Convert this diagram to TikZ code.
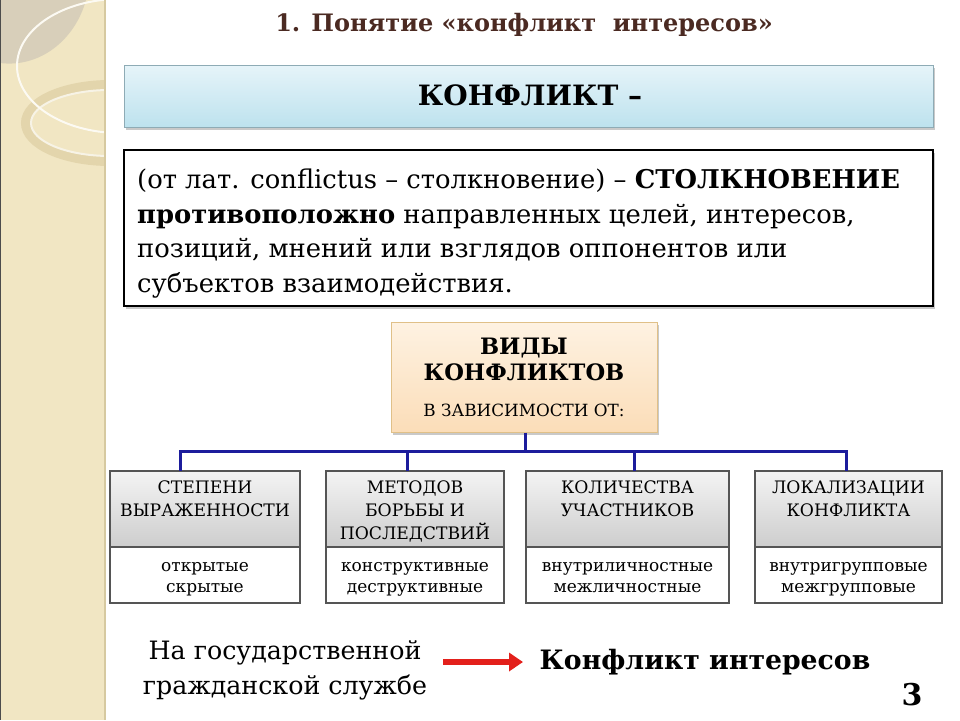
\documentclass[tikz,border=0pt]{standalone}
\usepackage{fontspec}
\setmainfont{DejaVu Serif}
\usetikzlibrary{shadows,arrows.meta}
\definecolor{stripc}{HTML}{F1E6C3}
\definecolor{stripedge}{HTML}{D6C9A0}
\definecolor{lensc}{HTML}{D8CFBA}
\definecolor{ringc}{HTML}{E3D5AC}
\definecolor{titlec}{HTML}{4B2A22}
\definecolor{bluetop}{HTML}{E6F4F9}
\definecolor{bluebot}{HTML}{BDE2EE}
\definecolor{blueedge}{HTML}{8EABB5}
\definecolor{peachtop}{HTML}{FEF2E2}
\definecolor{peachbot}{HTML}{FBDDB8}
\definecolor{peachedge}{HTML}{E0C088}
\definecolor{graytop}{HTML}{F4F4F4}
\definecolor{graybot}{HTML}{CDCDCD}
\definecolor{boxedge}{HTML}{555555}
\definecolor{linkc}{HTML}{1C1C9C}
\definecolor{arrowred}{HTML}{E3201B}
\newcommand{\fsz}[2]{\fontsize{#1}{#2}\selectfont}
\begin{document}
\begin{tikzpicture}[x=1pt,y=-1pt,
  shad/.style={drop shadow={shadow xshift=2pt,shadow yshift=-3pt,opacity=.35,fill=black!60}},
  hdrbox/.style={draw=boxedge,line width=1.2pt,top color=graytop,bottom color=graybot},
  lowbox/.style={draw=boxedge,line width=1.2pt,fill=white},
  hdrtext/.style={font=\fsz{17.2}{23},align=center,anchor=north,inner sep=0pt},
  lowtext/.style={font=\fsz{17}{21},align=center,anchor=north,inner sep=0pt},
  link/.style={draw=linkc,line width=3pt}]
\useasboundingbox (0,0) rectangle (960,720);
\fill[white] (0,0) rectangle (960,720);
% decorative strip
\begin{scope}
\clip (0,0) rectangle (105,720);
\fill[stripc] (0,0) rectangle (105,720);
\fill[lensc] (0,0) -- (0,63) .. controls (40,68) and (75,40) .. (86,0) -- cycle;
\draw[ringc,line width=10pt] (110,123) ellipse [x radius=84, y radius=38];
\draw[white!70!ringc,line width=2pt] (110,123) ellipse [x radius=79, y radius=33];
\draw[white!80!stripc,line width=2pt] (120,66) ellipse [x radius=103, y radius=67];
\end{scope}
\draw[stripedge,line width=1.2pt] (105,0) -- (105,720);
\draw[black!70,line width=0.8pt] (0.4,0) -- (0.4,720);
% title
\node (title) at (524,25) {\bfseries\fsz{24}{28}\color{titlec}1. Понятие «конфликт\ \ интересов»};
% blue box
\node[shad,draw=blueedge,line width=1pt,top color=bluetop,bottom color=bluebot,minimum width=809pt,minimum height=62pt,inner sep=0pt] (head) at (528.5,96) {};
\node (headtxt) at (530,95) {\bfseries\fsz{28}{32}КОНФЛИКТ –};
% definition box
\node[shad,draw=black,line width=2.5pt,fill=white,minimum width=809pt,minimum height=156pt,inner sep=0pt] (defbox) at (528.5,228) {};
\node[anchor=north west,inner sep=0pt,align=left,font=\fsz{25.8}{34.5}] (deftxt) at (137,169) {(от лат. conflictus – столкновение) – \textbf{СТОЛКНОВЕНИЕ}\\
\textbf{противоположно} направленных целей, интересов,\\
позиций, мнений или взглядов оппонентов или\\
субъектов взаимодействия.};
% types box
\node[shad,draw=peachedge,line width=1pt,top color=peachtop,bottom color=peachbot,minimum width=266pt,minimum height=110pt,inner sep=0pt] (types) at (524,377) {};
\node[align=center,inner sep=0pt,font=\bfseries\fsz{22.6}{26}] (typestxt) at (524,359) {ВИДЫ\\КОНФЛИКТОВ};
\node[inner sep=0pt,font=\fsz{16.8}{20}] (typesub) at (524,410) {В ЗАВИСИМОСТИ ОТ:};
% four boxes
\foreach \n/\xa/\xb in {a/110/300,b/326/504,c/526/729,d/755/942}{
  \path[hdrbox] (\xa,471) rectangle (\xb,547);
  \path[lowbox] (\xa,547) rectangle (\xb,603);
  \coordinate (top\n) at ({(\xa+\xb)/2},471);
  \coordinate (mid\n) at ({(\xa+\xb)/2},547);
}
\node[hdrtext] (ah) at ([yshift=-10pt]topa) {СТЕПЕНИ\\ВЫРАЖЕННОСТИ};
\node[hdrtext] (bh) at ([yshift=-10pt]topb) {МЕТОДОВ\\БОРЬБЫ И\\ПОСЛЕДСТВИЙ};
\node[hdrtext] (ch) at ([yshift=-10pt]topc) {КОЛИЧЕСТВА\\УЧАСТНИКОВ};
\node[hdrtext] (dh) at ([yshift=-10pt]topd) {ЛОКАЛИЗАЦИИ\\КОНФЛИКТА};
\node[lowtext] (al) at ([yshift=-15pt]mida) {открытые\\скрытые};
\node[lowtext] (bl) at ([yshift=-15pt]midb) {конструктивные\\деструктивные};
\node[lowtext] (cl) at ([yshift=-15pt]midc) {внутриличностные\\межличностные};
\node[lowtext] (dl) at ([yshift=-15pt]midd) {внутригрупповые\\межгрупповые};
% connectors
\coordinate (bus) at (525,451);
\coordinate (dropa) at (180,471);
\coordinate (dropb) at (407,471);
\coordinate (dropc) at (634,471);
\coordinate (dropd) at (846,471);
\draw[link] (types.south -| bus) -- (bus);
\draw[link,line join=miter] (dropa) -- (dropa |- bus) -- (dropd |- bus) -- (dropd);
\draw[link] (dropb |- bus) -- (dropb);
\draw[link] (dropc |- bus) -- (dropc);
% bottom
\node[align=center,inner sep=0pt,font=\fsz{25.3}{35}] (gov) at (285,670) {На государственной\\гражданской службе};
\node[inner sep=0pt,font=\bfseries\fsz{26.7}{32}] (ci) at (705,662) {Конфликт интересов};
\coordinate (arrs) at (443,662);
\coordinate (arre) at (523,662);
\draw[arrowred,line width=5.5pt,-{Triangle[length=14pt,width=18pt]}] (arrs) -- (arre);
\node[inner sep=0pt,font=\bfseries\fsz{30}{34}] (pg) at (912,695) {3};
\end{tikzpicture}
\end{document}
